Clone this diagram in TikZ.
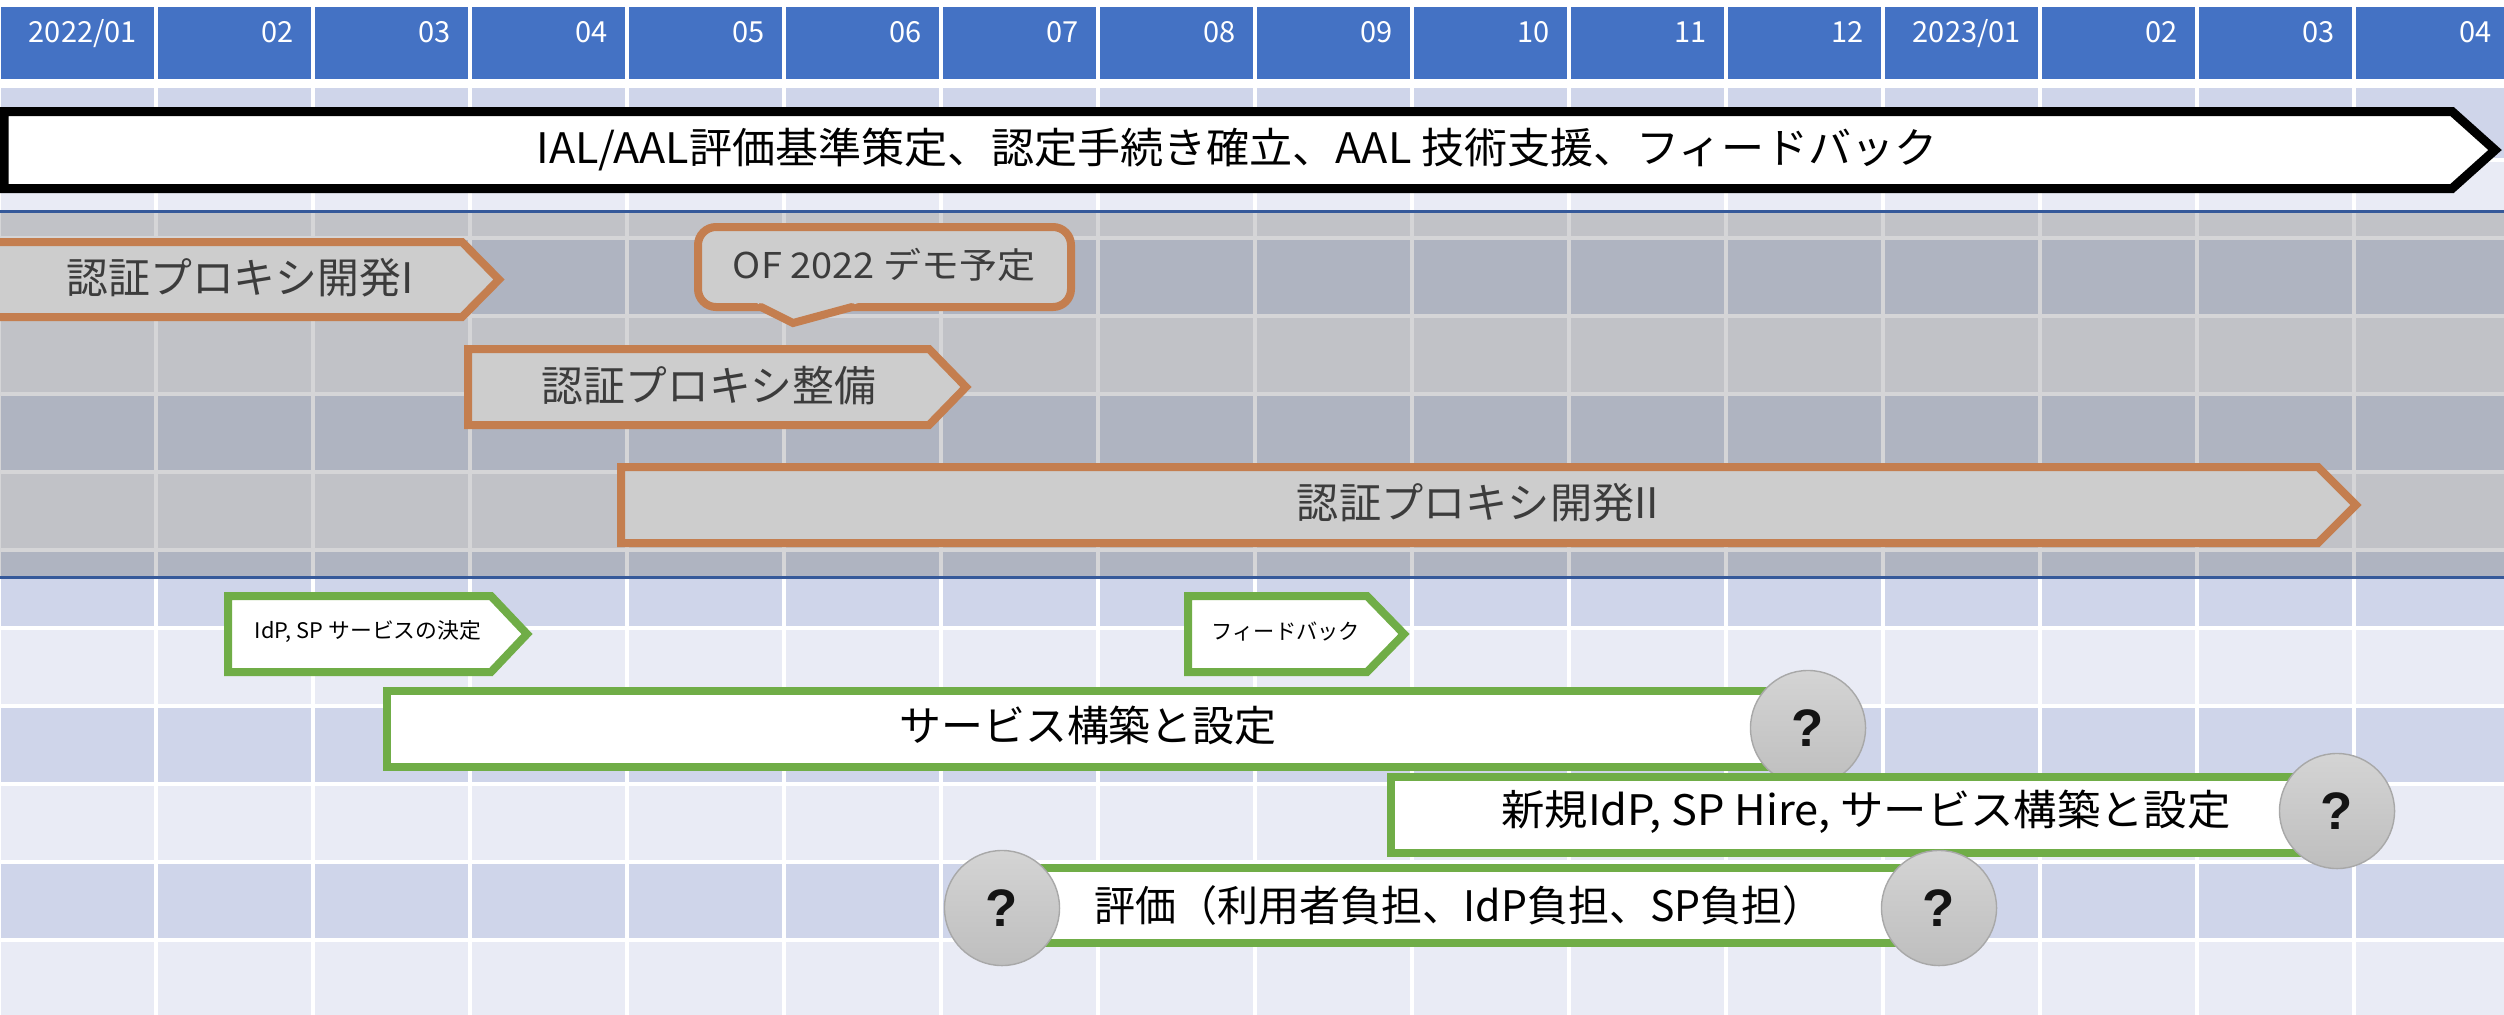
\documentclass[tikz,border=0pt]{standalone}
\usepackage{fontspec}
\usepackage{graphicx}
\setmainfont{Noto Sans CJK JP}
\newfontfamily\qfont{Liberation Sans}
\definecolor{hdrblue}{HTML}{4472C4}
\definecolor{rowdark}{HTML}{CFD5EA}
\definecolor{rowlight}{HTML}{E9EBF5}
\definecolor{greydark}{HTML}{AFB4C1}
\definecolor{greylight}{HTML}{C1C2C7}
\definecolor{greygap}{HTML}{D5D5D7}
\definecolor{bandline}{HTML}{35599A}
\definecolor{orangeB}{HTML}{C47E4F}
\definecolor{boxgrey}{HTML}{CDCDCD}
\definecolor{greenB}{HTML}{70AD47}
\definecolor{txtgrey}{HTML}{3C3C3C}
\newsavebox\tbox
\newcommand\fitx[2]{\sbox\tbox{#2}\pgfmathsetmacro\fitsx{#1*0.284527559/\the\wd\tbox}\scalebox{\fitsx}[1]{\usebox\tbox}}
\tikzset{
  bigtxt/.style={inner sep=0pt, font=\fontsize{11.95}{14}\selectfont},
  midtxt/.style={inner sep=0pt, font=\fontsize{10.1}{12}\selectfont},
  smalltxt/.style={inner sep=0pt, font=\fontsize{6.1}{7}\selectfont},
  hdrtxt/.style={inner sep=0pt, text=white, anchor=base east, font=\fontsize{8.25}{10}\selectfont},
  obox/.style={draw=orangeB, fill=boxgrey, line width=0.08cm},
  gbox/.style={draw=greenB, fill=white, line width=0.08cm},
  kbox/.style={draw=black, fill=white, line width=0.09cm},
  qcirc/.style={circle, minimum size=1.15cm, inner sep=0pt, draw={rgb,255:red,168;green,168;blue,168}, line width=0.4pt,
    top color={rgb,255:red,212;green,212;blue,212}, bottom color={rgb,255:red,190;green,190;blue,190},
    text={rgb,255:red,20;green,20;blue,20}, font=\qfont\bfseries\fontsize{15}{15}\selectfont},
}
\begin{document}
\begin{tikzpicture}[x=0.01cm,y=-0.01cm]
\useasboundingbox (0,0) rectangle (2504,1014);
\fill[white] (0,0) rectangle (2504,1014);
% header cells
\foreach \k in {0,...,15}{\fill[hdrblue] ({157*\k+0.5},7) rectangle ({157*(\k+1)-3.5},79);}
\foreach \t [count=\c from 0] in {{2022/01},02,03,04,05,06,07,08,09,10,11,12,{2023/01},02,03,04}{
  \node[hdrtxt] (h\c) at ({157*(\c+1)-19.5},42) {\t};
}
% grid rows
\foreach \r in {0,...,11}{
  \ifnum\r=0 \def\ytop{88}\def\ybot{158}\else\pgfmathsetmacro\ytop{162+78*(\r-1)}\pgfmathsetmacro\ybot{158+78*\r}\fi
  \ifodd\r \def\rc{rowlight}\else\def\rc{rowdark}\fi
  \foreach \k in {0,...,15}{\fill[\rc] ({157*\k+0.5},\ytop) rectangle ({157*(\k+1)-3.5},\ybot);}
}
% grey band
\begin{scope}
\clip (0,212) rectangle (2504,576);
\fill[greygap] (0,212) rectangle (2504,576);
\foreach \r in {1,...,6}{
  \pgfmathsetmacro\ytop{162+78*(\r-1)}\pgfmathsetmacro\ybot{158+78*\r}
  \ifodd\r \def\rc{greylight}\else\def\rc{greydark}\fi
  \foreach \k in {0,...,15}{\fill[\rc] ({157*\k+0.5},\ytop) rectangle ({157*(\k+1)-3.5},\ybot);}
}
\end{scope}
\draw[bandline, line width=0.03cm] (0,211) -- (2504,211);
\draw[bandline, line width=0.03cm] (0,577) -- (2504,577);
% top black arrow
\draw[kbox] (4,111.5) -- (2452,111.5) -- (2495,150) -- (2452,188.5) -- (4,188.5) -- cycle;
\node[bigtxt] (tial) at (1237,149) {\fitx{1400}{IAL/AAL評価基準策定、認定手続き確立、AAL 技術支援、フィードバック}};
% orange boxes
\draw[obox] (-10,242) -- (462,242) -- (499,279.5) -- (462,317) -- (-10,317) -- cycle;
\node[bigtxt, text=txtgrey] (tdev1) at (240,278) {\fitx{347}{認証プロキシ開発I}};
\draw[obox] (468,349) -- (929,349) -- (966,387) -- (929,425) -- (468,425) -- cycle;
\node[bigtxt, text=txtgrey] (tprep) at (709,386) {\fitx{334}{認証プロキシ整備}};
\draw[obox] (621,467) -- (2318,467) -- (2356,505) -- (2318,543) -- (621,543) -- cycle;
\node[bigtxt, text=txtgrey] (tdev2) at (1478,503) {\fitx{362}{認証プロキシ開発II}};
% callout
\draw[obox, rounded corners=0.18cm] (698,227) rectangle (1071,307);
\fill[boxgrey] (757,303) -- (858,303) -- (793,326) -- cycle;
\draw[orangeB, line width=0.08cm, line cap=round] (761,307) -- (793,323) -- (852,307);
\node[midtxt, text=txtgrey] (tof) at (884,265) {\fitx{302}{OF 2022 デモ予定}};
% green boxes
\draw[gbox] (228,596) -- (491,596) -- (527,634) -- (491,672) -- (228,672) -- cycle;
\node[smalltxt] (tidp) at (368,632) {\fitx{226}{IdP, SP サービスの決定}};
\draw[gbox] (1188,596) -- (1367,596) -- (1404,634) -- (1367,672) -- (1188,672) -- cycle;
\node[smalltxt] (tfb) at (1286,632) {\fitx{148}{フィードバック}};
\draw[gbox] (387,691) rectangle (1790,767);
\node[bigtxt] (tsvc) at (1088,726) {\fitx{377}{サービス構築と設定}};
\node[qcirc] (q1) at (1808,728) {?};
\draw[gbox] (1391,777) rectangle (2320,853);
\node[bigtxt] (tnew) at (1866,812) {\fitx{729}{新規IdP, SP Hire, サービス構築と設定}};
\node[qcirc] (q2) at (2337,811) {?};
\draw[gbox] (1000,868) rectangle (1930,943);
\node[bigtxt] (teval) at (1459,906) {\fitx{729}{評価（利用者負担、IdP負担、SP負担）}};
\node[qcirc] (q3) at (1002,908) {?};
\node[qcirc] (q4) at (1939,908) {?};
\end{tikzpicture}
\end{document}
